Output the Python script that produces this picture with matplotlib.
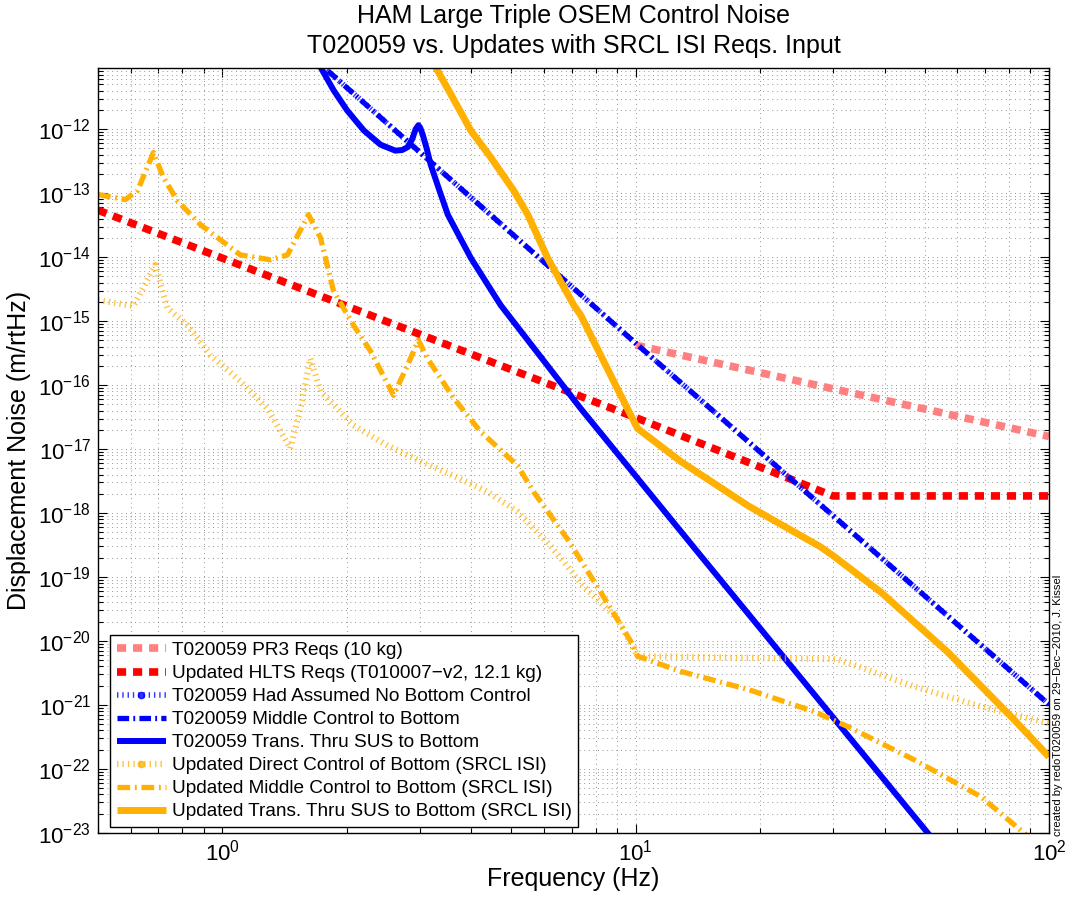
import matplotlib
matplotlib.use("Agg")
import numpy as np
import matplotlib.pyplot as plt
from matplotlib.lines import Line2D
from matplotlib.ticker import LogLocator, NullFormatter, FixedLocator

plt.rcParams['font.family'] = ['Liberation Sans', 'DejaVu Sans']
plt.rcParams['mathtext.fontset'] = 'custom'
plt.rcParams['mathtext.rm'] = 'Liberation Sans'

# ---------------- data ----------------
pr3_f = [10, 100]
pr3_v = [4.2e-16, 1.57e-17]

hlts_f = [0.5, 10, 30, 100]
hlts_v = [5.4e-14, 3.1e-17, 1.85e-18, 1.85e-18]

t_nobot_f = [1.5, 2.41, 10, 100]
t_nobot_v = [2.3e-11, 1.53e-12, 4.5e-16, 1.02e-21]

t_mid_f = [1.5, 2.41, 10, 100]
t_mid_v = [2.3e-11, 1.53e-12, 4.5e-16, 1.02e-21]

t_sus_f = [1.6, 1.727, 1.857, 2.004, 2.199, 2.413, 2.62, 2.72, 2.805, 2.88,
           2.933, 2.98, 3.01, 3.05, 3.12, 3.19, 3.35, 3.51, 3.99, 4.71, 7.36,
           13.8, 50.9, 100]
t_sus_v = [2.2e-11, 9.3e-12, 4.06e-12, 1.95e-12, 9.5e-13, 5.7e-13, 4.6e-13,
           4.7e-13, 5.2e-13, 7.0e-13, 9.9e-13, 1.15e-12, 1.05e-12, 8.3e-13,
           5.0e-13, 2.8e-13, 1.1e-13, 4.6e-14, 9.7e-15, 1.78e-15, 4.3e-17,
           2.95e-19, 1.0e-23, 4.5e-26]

u_dir_f = [0.5, 0.609, 0.688, 0.736, 0.823, 0.935, 1.105, 1.285, 1.46, 1.545,
           1.633, 1.727, 2.076, 2.51, 3.02, 3.63, 4.38, 5.18, 6.23, 7.48,
           9.04, 10.1, 30.8, 47.1, 68.4, 100]
u_dir_v = [2.13e-15, 1.72e-15, 7.5e-15, 1.6e-15, 8.6e-16, 2.93e-16, 1.15e-16,
           4.3e-17, 1.02e-17, 4.3e-17, 2.6e-16, 8.0e-17, 2.34e-17, 1.13e-17,
           6.4e-18, 3.8e-18, 2.15e-18, 1.05e-18, 3.06e-19, 7.2e-20, 2.2e-20,
           5.8e-21, 5.2e-21, 1.95e-21, 9.5e-22, 5.2e-22]

u_mid_f = [0.5, 0.582, 0.623, 0.681, 0.72, 0.778, 0.885, 1.105, 1.307, 1.437,
           1.615, 1.727, 1.857, 2.076, 2.282, 2.594, 2.805, 2.98, 3.135, 3.63,
           4.21, 5.18, 5.66, 6.84, 8.23, 9.89, 10.1, 12.85, 18.7, 27.0, 32.6,
           47.1, 68.4, 87.0, 100]
u_mid_v = [9.5e-14, 7.9e-14, 1.09e-13, 4.3e-13, 1.75e-13, 7.6e-14, 3.2e-14,
           1.08e-14, 9.06e-15, 1.08e-14, 4.6e-14, 2.0e-14, 2.96e-15, 8.6e-16,
           3.4e-16, 6.9e-17, 2.04e-16, 5.0e-16, 2.6e-16, 6.2e-17, 1.88e-17,
           5.5e-18, 2.15e-18, 3.9e-19, 5.8e-20, 8.3e-21, 5.8e-21, 3.35e-21,
           1.75e-21, 7.9e-22, 4.6e-22, 1.4e-22, 3.7e-23, 1.0e-23, 4.5e-24]

u_sus_f = [3.0, 3.28, 3.57, 3.99, 4.46, 5.07, 5.48, 6.12, 7.08, 7.36, 8.84,
           10.1, 12.85, 18.7, 28.0, 30.2, 39.2, 56.9, 82.3, 100]
u_sus_v = [2.6e-11, 9.3e-12, 3.5e-12, 9.5e-13, 3.6e-13, 1.09e-13, 4.6e-14,
           9.7e-15, 1.78e-15, 1.24e-15, 1.15e-16, 2.1e-17, 6.4e-18, 1.3e-18,
           2.96e-19, 2.1e-19, 5.8e-20, 6.7e-21, 5.9e-22, 1.55e-22]

labels = ['T020059 PR3 Reqs (10 kg)',
          'Updated HLTS Reqs (T010007\u2212v2, 12.1 kg)',
          'T020059 Had Assumed No Bottom Control',
          'T020059 Middle Control to Bottom',
          'T020059 Trans. Thru SUS to Bottom',
          'Updated Direct Control of Bottom (SRCL ISI)',
          'Updated Middle Control to Bottom (SRCL ISI)',
          'Updated Trans. Thru SUS to Bottom (SRCL ISI)']

xlim = (0.5, 100)
ylim = (1e-23, 9e-12)
xticks = [1, 10, 100]
yticks = [10.0 ** e for e in range(-23, -11)]

# ---------------- styles ----------------
BLUE = '#0000FF'
ORANGE = '#FFB000'
RED = '#FF0000'
PINK = '#FF8080'

styles = [
    dict(color=PINK, lw=5.5, dashes=(1.2, 0.9), alpha=1.0),
    dict(color=RED, lw=5.5, dashes=(1.2, 0.9), alpha=1.0),
    dict(color=BLUE, lw=4.0, dashes=(0.25, 0.7), alpha=0.8),
    dict(color=BLUE, lw=3.8, dashes=(2.2, 0.8, 0.35, 0.8), alpha=1.0),
    dict(color=BLUE, lw=4.3, dashes=None, alpha=1.0),
    dict(color=ORANGE, lw=4.5, dashes=(0.22, 0.65), alpha=0.75),
    dict(color=ORANGE, lw=3.8, dashes=(2.4, 0.9, 0.35, 0.9), alpha=1.0),
    dict(color=ORANGE, lw=5.0, dashes=None, alpha=1.0),
]
series = [(pr3_f, pr3_v), (hlts_f, hlts_v), (t_nobot_f, t_nobot_v),
          (t_mid_f, t_mid_v), (t_sus_f, t_sus_v), (u_dir_f, u_dir_v),
          (u_mid_f, u_mid_v), (u_sus_f, u_sus_v)]

fig = plt.figure(figsize=(10.75, 9.07), dpi=100)
ax = fig.add_axes([98 / 1075, 1 - 833 / 907, 951 / 1075, 765 / 907])

handles = []
for (f, v), st, lab in zip(series, styles, labels):
    kw = dict(color=st['color'], lw=st['lw'], alpha=st['alpha'],
              solid_capstyle='butt', dash_capstyle='butt',
              solid_joinstyle='round')
    if st['dashes'] is not None:
        kw['dashes'] = st['dashes']
    ax.plot(f, v, **kw)
    hk = dict(kw)
    if lab in (labels[2], labels[5]):
        hk['marker'] = '.'
        hk['markersize'] = 9
    handles.append(Line2D([], [], **hk))

ax.set_xscale('log')
ax.set_yscale('log')
ax.set_xlim(*xlim)
ax.set_ylim(*ylim)
ax.set_xticks(xticks)
ax.set_yticks(yticks)
yminor = [m * t for t in yticks for m in range(2, 10) if m * t < ylim[1]]
xminor = [m * t for t in [0.1] + xticks[:-1] for m in range(2, 10)
          if xlim[0] <= m * t <= xlim[1]]
ax.yaxis.set_minor_locator(FixedLocator(yminor))
ax.xaxis.set_minor_locator(FixedLocator(xminor))
ax.yaxis.set_minor_formatter(NullFormatter())
ax.xaxis.set_minor_formatter(NullFormatter())

ax.grid(True, which='both', color='0.45', linewidth=0.6, dashes=(1, 4.5))
ax.set_axisbelow(True)
ax.tick_params(which='both', direction='in', top=True, right=True,
               labelsize=16, width=0.8)
ax.tick_params(which='major', length=6.5, pad=5)
ax.tick_params(which='minor', length=3.5)
for s in ax.spines.values():
    s.set_linewidth(1.0)

ax.set_xlabel('Frequency (Hz)', fontsize=18, labelpad=1)
ax.set_ylabel('Displacement Noise (m/rtHz)', fontsize=18, labelpad=5)
ax.set_title('HAM Large Triple OSEM Control Noise\n'
             'T020059 vs. Updates with SRCL ISI Reqs. Input',
             fontsize=18, pad=11, linespacing=1.3)

leg = ax.legend(handles, labels, loc='lower left',
                bbox_to_anchor=(12 / 951, 6 / 765), borderaxespad=0,
                fontsize=13.7, labelspacing=0.3, handlelength=2.6,
                handletextpad=0.3, borderpad=0.35, numpoints=1,
                fancybox=False, framealpha=1.0, edgecolor='black')
leg.get_frame().set_linewidth(1.0)

fig.text(1058 / 1075, 1 - 836 / 907,
         'created by redoT020059 on 29\u2212Dec\u22122010, J. Kissel',
         rotation=90, ha='center', va='bottom', fontsize=8.1)

fig.savefig('out.png', dpi=100)
